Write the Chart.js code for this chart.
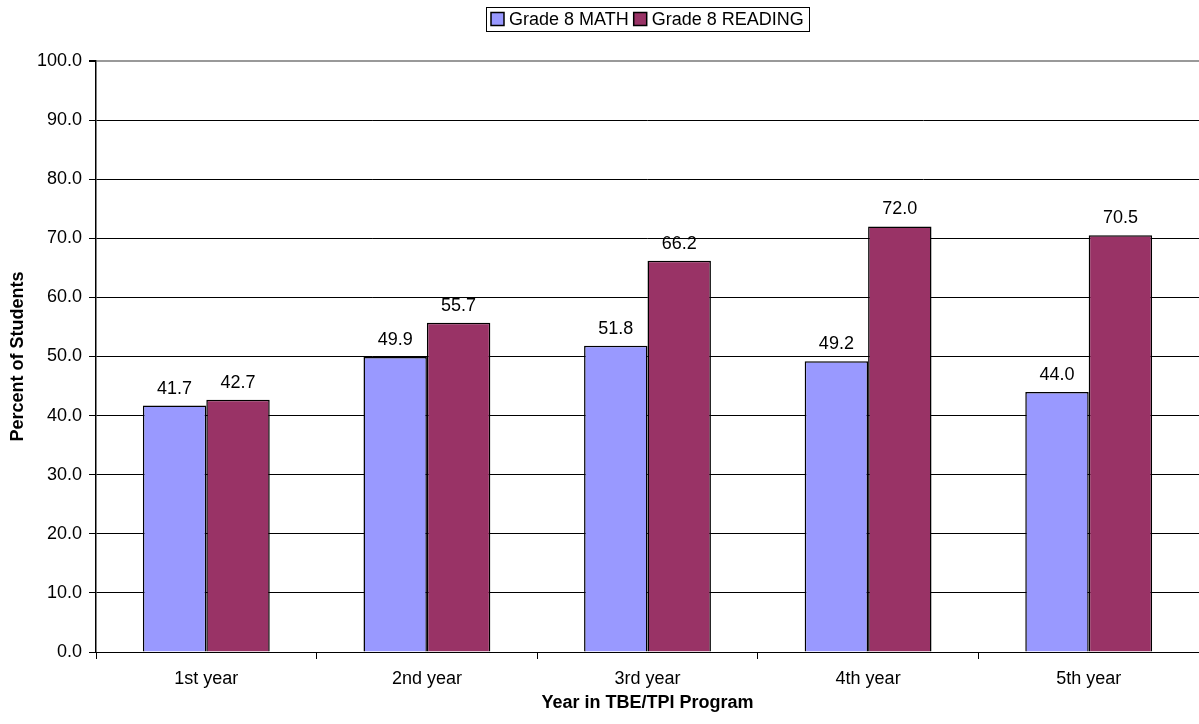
<!DOCTYPE html>
<html>
<head>
<meta charset="utf-8">
<script src="https://cdn.jsdelivr.net/npm/chart.js@4.4.0/dist/chart.umd.min.js"></script>
<style>
  html, body { margin: 0; padding: 0; background: #fff; }
  #wrap { width: 1199px; height: 724px; }
</style>
</head>
<body>
<div id="wrap"><canvas id="c"></canvas></div>
<script>
const years   = ["1st year", "2nd year", "3rd year", "4th year", "5th year"];
const math    = [41.7, 49.9, 51.8, 49.2, 44.0];
const reading = [42.7, 55.7, 66.2, 72.0, 70.5];

const FONT = "'Liberation Sans', Arial, sans-serif";
Chart.defaults.font.family = FONT;
Chart.defaults.color = "#000";

// value labels above bars
const barLabels = {
  id: "barLabels",
  afterDatasetsDraw(chart) {
    const ctx = chart.ctx;
    ctx.save();
    ctx.font = "18px " + FONT;
    ctx.fillStyle = "#000";
    ctx.textAlign = "center";
    ctx.textBaseline = "alphabetic";
    chart.data.datasets.forEach((ds, i) => {
      chart.getDatasetMeta(i).data.forEach((bar, j) => {
        ctx.fillText(ds.data[j].toFixed(1), bar.x, bar.y - 12);
      });
    });
    ctx.restore();
  }
};

// boxed legend above the plot, like the original
const boxLegend = {
  id: "boxLegend",
  afterDraw(chart) {
    const ctx = chart.ctx;
    const ca = chart.chartArea;
    ctx.save();
    ctx.font = "18px " + FONT;
    const sq = 13, pad = 5, gap = 5, itemGap = 5;
    const items = chart.data.datasets.map(ds => ({ ds, w: ctx.measureText(ds.label).width }));
    let total = pad * 2 + itemGap * (items.length - 1);
    items.forEach(it => { total += sq + gap + it.w; });
    const left = Math.round((ca.left + ca.right) / 2 - total / 2);
    const top = 7, h = 24, cy = top + h / 2;
    ctx.strokeStyle = "#000";
    ctx.lineWidth = 1;
    ctx.strokeRect(left + 0.5, top + 0.5, Math.round(total), h);
    let x = left + pad;
    ctx.textBaseline = "middle";
    ctx.textAlign = "left";
    items.forEach(it => {
      ctx.fillStyle = it.ds.backgroundColor;
      ctx.fillRect(x, cy - sq / 2, sq, sq);
      ctx.lineWidth = 1.5;
      ctx.strokeRect(x, cy - sq / 2, sq, sq);
      x += sq + gap;
      ctx.fillStyle = "#000";
      ctx.fillText(it.ds.label, x, cy + 1);
      x += it.w + itemGap;
    });
    ctx.restore();
  }
};

new Chart(document.getElementById("c"), {
  type: "bar",
  data: {
    labels: years,
    datasets: [
      { label: "Grade 8 MATH",    data: math,    backgroundColor: "#9999FF", borderColor: "#000", borderWidth: 1.5 },
      { label: "Grade 8 READING", data: reading, backgroundColor: "#993366", borderColor: "#000", borderWidth: 1.5 }
    ]
  },
  options: {
    responsive: true,
    maintainAspectRatio: false,
    animation: false,
    datasets: { bar: { categoryPercentage: 0.575, barPercentage: 1 } },
    layout: { padding: { top: 61, right: 0, left: 0, bottom: 0 } },
    plugins: {
      tooltip: { enabled: false },
      legend: { display: false }
    },
    scales: {
      x: {
        afterFit(s) { s.height = 72; },
        grid: { offset: true, drawOnChartArea: false, drawTicks: true, tickLength: 7, color: "#000" },
        border: { color: "#000", width: 1 },
        ticks: { font: { size: 18 }, padding: 9 },
        title: { display: true, text: "Year in TBE/TPI Program", font: { size: 18, weight: "bold" }, padding: { top: 0, bottom: 10 } }
      },
      y: {
        min: 0, max: 100,
        afterFit(s) { s.width = 96; },
        ticks: { stepSize: 10, font: { size: 18 }, padding: 7, callback: v => v.toFixed(1) },
        grid: {
          color: c => (c.tick && c.tick.value === 100) ? "#999" : "#000",
          lineWidth: c => (c.tick && c.tick.value === 100) ? 2 : 1,
          tickLength: 7, tickColor: "#000"
        },
        border: { color: "#000", width: 1.5 },
        title: { display: true, text: "Percent of Students", font: { size: 18, weight: "bold" }, padding: { top: 7, bottom: 0 } }
      }
    }
  },
  plugins: [barLabels, boxLegend]
});
</script>
</body>
</html>
